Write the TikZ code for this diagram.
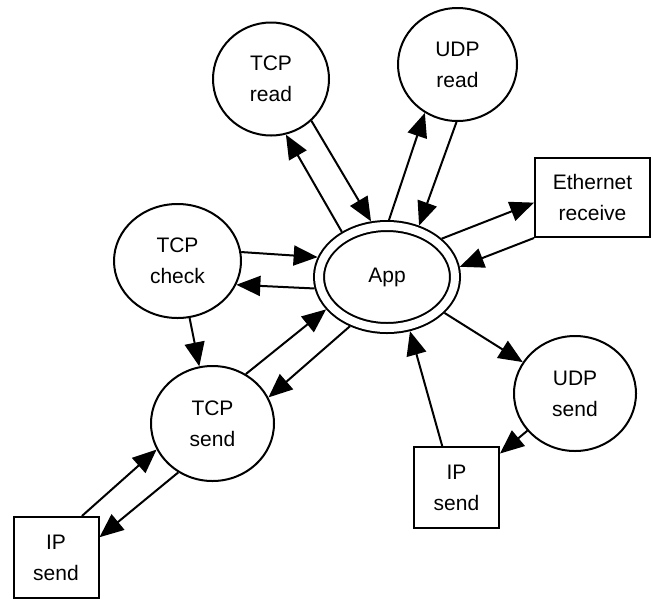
\documentclass[tikz,border=0pt]{standalone}
\usepackage{fontspec}
\setmainfont{Liberation Sans}
\usetikzlibrary{arrows.meta,shapes.geometric}
\tikzset{basic/.style={draw,inner sep=0pt,align=center,font=\fontsize{21}{31}\selectfont}}
\tikzset{task/.style={basic,ellipse}}
\tikzset{port/.style={basic,rectangle}}
\tikzset{hub/.style={basic,ellipse,double,double distance=8pt,outer sep=6pt}}

\begin{document}
\begin{tikzpicture}[x=1pt,y=-1pt,line width=2pt,>={Triangle[length=24pt,width=20pt]}]
        \useasboundingbox (0,0) rectangle (653,598);
        \node[hub,minimum width=136pt,minimum height=102pt] (app) at (387,277) {App};
        \node[task,minimum width=116pt,minimum height=113pt] (tcpread) at (271,79) {TCP\\read};
        \node[task,minimum width=119pt,minimum height=113pt] (udpread) at (457.5,64.5) {UDP\\read};
        \node[port,minimum width=115pt,minimum height=79pt] (eth) at (592.5,197.5) {Ethernet\\receive};
        \node[task,minimum width=127pt,minimum height=114pt] (tcpcheck) at (177.5,261) {TCP\\check};
        \node[task,minimum width=123pt,minimum height=115pt] (tcpsend) at (212.5,423.5) {TCP\\send};
        \node[task,minimum width=122pt,minimum height=115pt] (udpsend) at (575,393.5) {UDP\\send};
        \node[port,minimum width=85pt,minimum height=81pt] (ipr) at (456.5,487.5) {IP\\send};
        \node[port,minimum width=85pt,minimum height=81pt] (ipl) at (56,557.5) {IP\\send};
            \path[draw,->] (app.135) -- (tcpread.-75);
            \path[draw,->] (tcpread.-46) -- (app.106.6);
            \path[draw,->] (app.88) -- (udpread.-124);
            \path[draw,->] (udpread.-91) -- (app.58);
            \path[draw,->] (app.35) -- (eth.185);
            \path[draw,->] (eth.south west) -- (app.8);
            \path[draw,->] (tcpcheck.8) -- (app.164);
            \path[draw,->] (app.189) -- (tcpcheck.-22);
            \path[draw,->] (tcpcheck.-78) -- (tcpsend.103);
            \path[draw,->] (tcpsend.56) -- (app.-152);
            \path[draw,->] (app.-127) -- (tcpsend.25.5);
            \path[draw,->] (app.-32) -- (udpsend.149);
            \path[draw,->] (udpsend.-142) -- (ipr.38);
            \path[draw,->] (ipr.109) -- (app.-67);
            \path[draw,->] (ipl.58) -- (tcpsend.205.5);
            \path[draw,->] (tcpsend.-125) -- (ipl.25);
    \end{tikzpicture}
\end{document}
